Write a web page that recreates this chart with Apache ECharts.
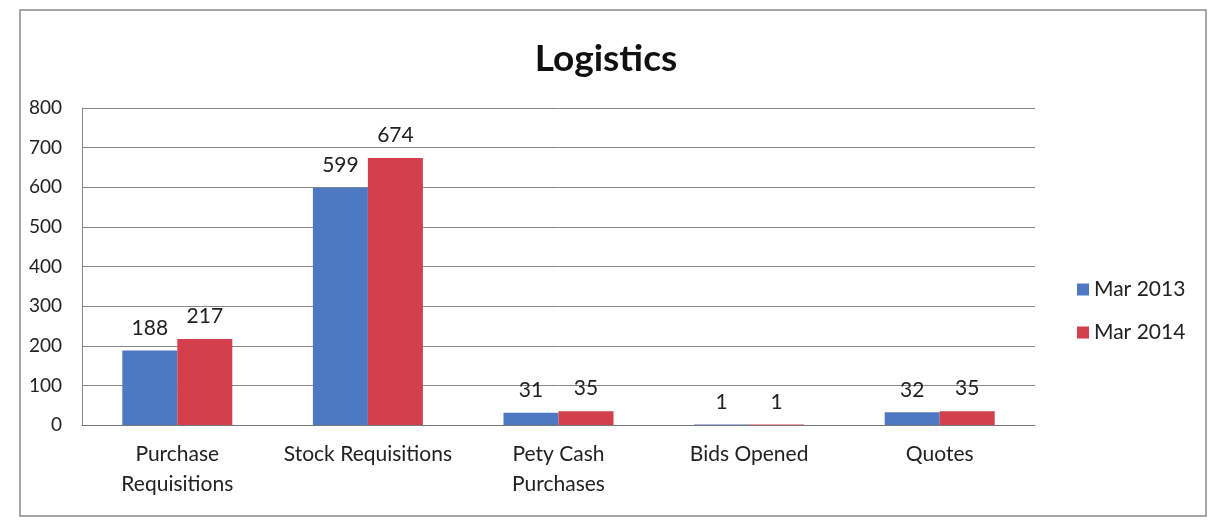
<!DOCTYPE html>
<html><head><meta charset="utf-8">
<script src="https://cdn.jsdelivr.net/npm/echarts@6/dist/echarts.min.js"></script>
<style>html,body{margin:0;padding:0;background:#fff}#c{width:1212px;height:521px}</style>
</head><body><div id="c"></div>
<script>
const categories = ["Purchase\nRequisitions", "Stock Requisitions", "Pety Cash\nPurchases", "Bids Opened", "Quotes"];
const mar2013 = [188, 599, 31, 1, 32];
const mar2014 = [217, 674, 35, 1, 35];
const seriesNames = ["Mar 2013", "Mar 2014"];
const yTicks = {min: 0, max: 800, interval: 100};

const font = "Lato, 'Noto Sans', sans-serif";
const chart = echarts.init(document.getElementById('c'));
chart.setOption({
  backgroundColor: '#fff',
  animation: false,
  textStyle: {fontFamily: font},
  graphic: [{type: 'rect', shape: {x: 20, y: 10, width: 1186, height: 506}, style: {fill: 'none', stroke: '#8a8a8a', lineWidth: 1.5}}],
  title: {text: 'Logistics', left: 'center', top: 36, textStyle: {fontFamily: font, fontSize: 37, fontWeight: 'bold', color: '#111'}},
  legend: {orient: 'vertical', left: 1072, top: 274, itemWidth: 12, itemHeight: 12, itemGap: 22,
    icon: 'rect', textStyle: {fontSize: 21, color: '#222', fontFamily: font}, data: seriesNames},
  grid: {left: 82, top: 108, right: 177, bottom: 96},
  xAxis: {type: 'category', data: categories,
    axisLine: {lineStyle: {color: '#777'}}, axisTick: {show: false},
    axisLabel: {fontSize: 21, color: '#222', lineHeight: 30, margin: 14, interval: 0, fontFamily: font}},
  yAxis: {type: 'value', min: yTicks.min, max: yTicks.max, interval: yTicks.interval,
    axisLine: {show: true, lineStyle: {color: '#888'}}, axisTick: {show: false},
    splitLine: {lineStyle: {color: '#888', width: 1}},
    axisLabel: {fontSize: 19, color: '#222', margin: 20, fontFamily: font}},
  series: [
    {name: seriesNames[0], type: 'bar', data: mar2013, barWidth: 55, barGap: '0%',
     itemStyle: {color: '#4F78C2'},
     label: {show: true, position: 'top', fontSize: 21, color: '#222', distance: 12, fontFamily: font}},
    {name: seriesNames[1], type: 'bar', data: mar2014, barWidth: 55,
     itemStyle: {color: '#D43F4E'},
     label: {show: true, position: 'top', fontSize: 21, color: '#222', distance: 12, fontFamily: font}}
  ]
});
</script></body></html>
